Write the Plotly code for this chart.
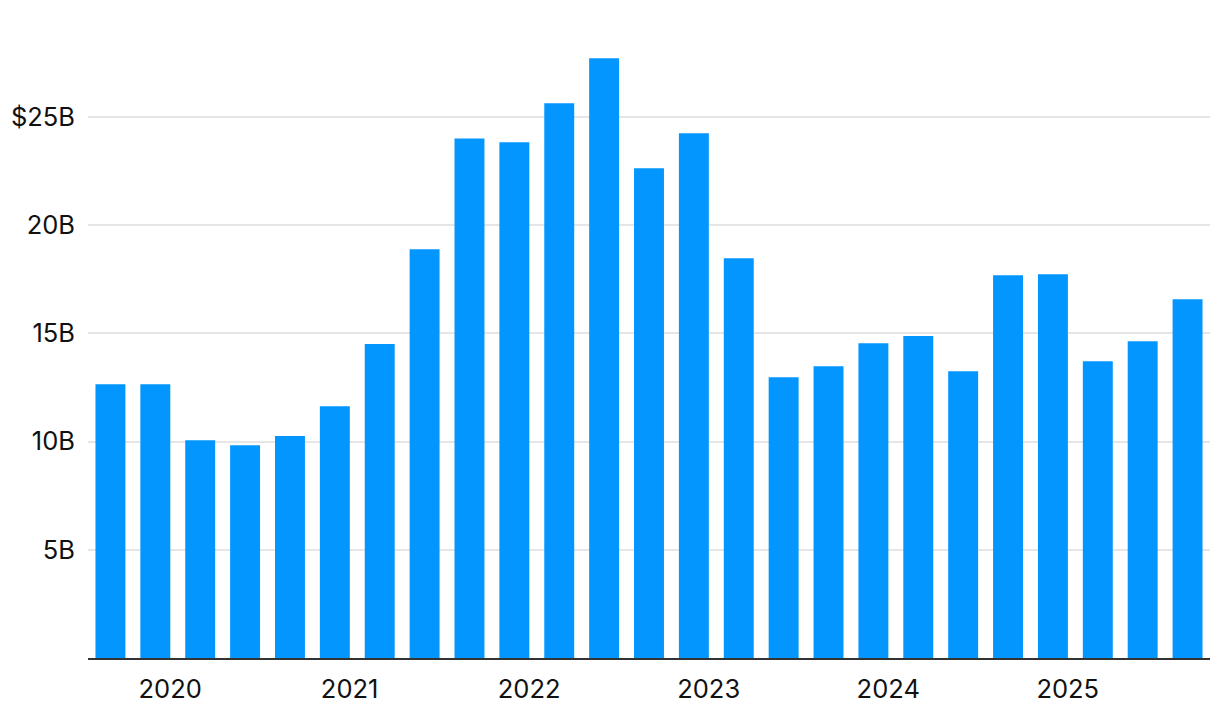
import plotly.graph_objects as go

quarters = ["2020 Q1", "2020 Q2", "2020 Q3", "2020 Q4",
            "2021 Q1", "2021 Q2", "2021 Q3", "2021 Q4",
            "2022 Q1", "2022 Q2", "2022 Q3", "2022 Q4",
            "2023 Q1", "2023 Q2", "2023 Q3", "2023 Q4",
            "2024 Q1", "2024 Q2", "2024 Q3", "2024 Q4",
            "2025 Q1", "2025 Q2", "2025 Q3", "2025 Q4",
            "2026 Q1"]
values_b = [12.65, 12.65, 10.06, 9.83, 10.25, 11.63, 14.5, 18.88,
            24.0, 23.82, 25.62, 27.7, 22.62, 24.24, 18.47, 12.97,
            13.48, 14.54, 14.87, 13.25, 17.68, 17.73, 13.71, 14.63, 16.57]
year_labels = ["2020", "2021", "2022", "2023", "2024", "2025"]
year_tick_pos = [1.33, 5.33, 9.33, 13.33, 17.33, 21.33]
y_tickvals = [5, 10, 15, 20, 25]
y_ticktext = ["5B", "10B", "15B", "20B", "$25B"]

x_idx = list(range(len(values_b)))

fig = go.Figure(go.Bar(
    x=x_idx, y=values_b, customdata=quarters,
    marker=dict(color="#0396ff", line=dict(width=0)),
    hovertemplate="%{customdata}: $%{y}B<extra></extra>",
))

font_family = "Inter, Roboto, Arial, sans-serif"
fig.update_layout(
    width=1212, height=718,
    margin=dict(l=79.5, r=9.5, t=33, b=68),
    paper_bgcolor="white", plot_bgcolor="white",
    bargap=0.333, showlegend=False,
    font=dict(family=font_family, size=25.5, color="#111111"),
)
fig.update_xaxes(
    range=[-0.5, len(values_b) - 0.5],
    tickmode="array", tickvals=year_tick_pos, ticktext=year_labels,
    showgrid=False, zeroline=False,
    showline=True, linecolor="#333333", linewidth=2,
    ticks="", ticklen=0, automargin=False, ticklabelstandoff=7,
)
fig.update_yaxes(
    range=[0, 28.5],
    tickmode="array", tickvals=y_tickvals, ticktext=y_ticktext,
    showgrid=True, gridcolor="#e6e6e6", gridwidth=1.5,
    zeroline=False, showline=False, ticks="", ticklabelstandoff=12,
    automargin=False,
)

fig.write_html("out.html")
